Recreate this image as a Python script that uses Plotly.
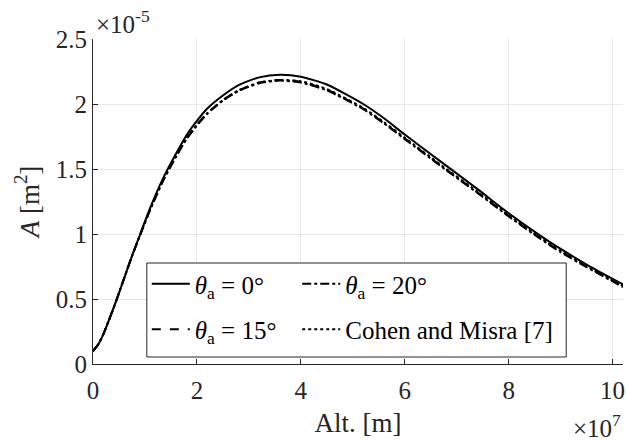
import plotly.graph_objects as go

# Altitude in units of 1e7 m, area in units of 1e-5 m^2
alt = [0, 0.1, 0.2, 0.3, 0.45, 0.6, 0.75, 0.9, 1.1, 1.35, 1.6, 1.8, 2.0, 2.2, 2.5, 2.8,
       3.2, 3.6, 4.0, 4.5, 5.2, 5.6, 6.0, 6.7, 7.4, 8.0, 8.6, 9.0, 9.5, 10.0, 10.2]
area_theta0 = [0.10, 0.15, 0.23, 0.33, 0.49, 0.66, 0.83, 0.99, 1.20, 1.43, 1.62, 1.76, 1.87,
               1.965, 2.065, 2.145, 2.205, 2.225, 2.21, 2.15, 2.0, 1.89, 1.765, 1.555, 1.345,
               1.16, 0.99, 0.885, 0.765, 0.655, 0.612]
area_theta15 = [0.10, 0.15, 0.23, 0.33, 0.49, 0.66, 0.83, 0.985, 1.19, 1.415, 1.60, 1.735,
                1.84, 1.93, 2.03, 2.105, 2.165, 2.185, 2.17, 2.11, 1.965, 1.855, 1.735,
                1.525, 1.32, 1.14, 0.97, 0.865, 0.75, 0.64, 0.597]
area_theta20 = [0.10, 0.15, 0.23, 0.33, 0.49, 0.66, 0.83, 0.985, 1.185, 1.41, 1.595, 1.73,
                1.835, 1.925, 2.025, 2.10, 2.16, 2.18, 2.165, 2.105, 1.96, 1.85, 1.73,
                1.52, 1.315, 1.135, 0.965, 0.86, 0.745, 0.635, 0.592]
area_cohen = [0.10, 0.15, 0.23, 0.33, 0.49, 0.66, 0.83, 0.985, 1.19, 1.415, 1.60, 1.735,
              1.84, 1.93, 2.03, 2.105, 2.165, 2.185, 2.175, 2.115, 1.97, 1.86, 1.74,
              1.53, 1.325, 1.145, 0.975, 0.87, 0.755, 0.645, 0.60]

x_ticks = [0, 2, 4, 6, 8, 10]
y_ticks = [0, 0.5, 1, 1.5, 2, 2.5]
y_ticktext = ["0", "0.5", "1", "1.5", "2", "2.5"]

FONT = "Liberation Serif, Times New Roman, serif"
INK = "#262626"

# (label, values, dash, legend column)
series = [
    ("<i>θ</i><sub>a</sub> = 0°", area_theta0, "solid", "legend"),
    ("<i>θ</i><sub>a</sub> = 15°", area_theta15, "dash", "legend"),
    ("<i>θ</i><sub>a</sub> = 20°", area_theta20, "dashdot", "legend2"),
    ("Cohen and Misra [7]", area_cohen, "dot", "legend2"),
]

fig = go.Figure()
for i, (name, ys, dash, lg) in enumerate(series):
    fig.add_trace(go.Scatter(
        x=alt, y=ys, mode="lines", name=name, legend=lg, legendgroup=f"g{i}",
        line=dict(color="black", width=2, dash=dash, shape="spline", smoothing=0.6),
    ))

axis_common = dict(
    showgrid=True, gridcolor="#e8e8e8", gridwidth=1,
    showline=True, linecolor=INK, linewidth=1,
    ticks="inside", ticklen=5, tickcolor=INK,
    zeroline=False, mirror=False, ticklabeloverflow="allow",
    tickfont=dict(family=FONT, size=25, color=INK),
)

L, R, T, B = 93, 2, 39, 76
W, H = 627, 440
pw, ph = W - L - R, H - T - B


def px_x(px):
    return (px - L) / pw


def px_y(py):
    return (H - B - py) / ph


legend_common = dict(
    orientation="v", xanchor="left", yanchor="top",
    bgcolor="rgba(0,0,0,0)", borderwidth=0, itemwidth=38,
    tracegroupgap=10,
    font=dict(family=FONT, size=25, color="black"),
)

fig.update_layout(
    width=W, height=H,
    margin=dict(l=L, r=R, t=T, b=B),
    paper_bgcolor="white", plot_bgcolor="white",
    font=dict(family=FONT, size=25, color="black"),
    xaxis=dict(range=[0, 10.2], tickvals=x_ticks, ticklabelstandoff=4, **axis_common,
               title=dict(text="Alt. [m]", font=dict(family=FONT, size=27, color=INK),
                          standoff=10)),
    yaxis=dict(range=[0, 2.5], tickvals=y_ticks, ticktext=y_ticktext, **axis_common,
               title=dict(text="<i>A</i> [m<sup>2</sup>]",
                          font=dict(family=FONT, size=27, color=INK), standoff=8)),
    legend=dict(x=px_x(147), y=px_y(261), **legend_common),
    legend2=dict(x=px_x(298), y=px_y(261), **legend_common),
    showlegend=True,
)

# legend box
fig.add_shape(type="rect", xref="paper", yref="paper",
              x0=px_x(147), x1=px_x(568), y0=px_y(357), y1=px_y(263),
              line=dict(color=INK, width=1), fillcolor="white", layer="above")

fig.add_annotation(xref="paper", yref="paper", x=px_x(94), y=px_y(40),
                   xanchor="left", yanchor="bottom",
                   text="×10<sup>-5</sup>", showarrow=False,
                   font=dict(family=FONT, size=25, color=INK))
fig.add_annotation(xref="paper", yref="paper", x=px_x(625), y=px_y(444),
                   xanchor="right", yanchor="bottom",
                   text="×10<sup>7</sup>", showarrow=False,
                   font=dict(family=FONT, size=25, color=INK))

fig.write_html("out.html")
